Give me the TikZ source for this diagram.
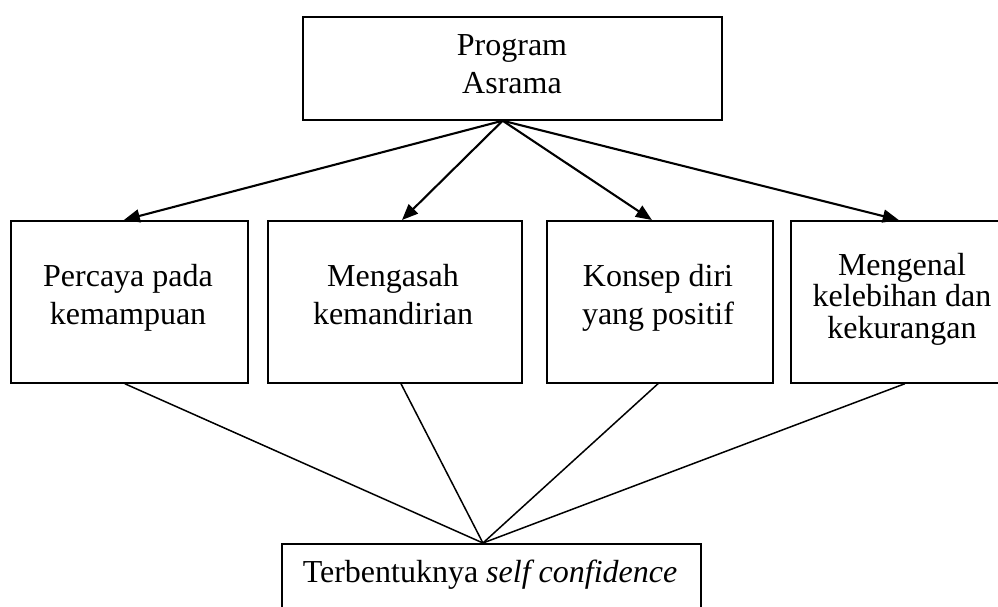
\documentclass[tikz,border=0pt]{standalone}
\usepackage{fontspec}
\setmainfont{Liberation Serif}
\usetikzlibrary{arrows.meta,calc}
\begin{document}
\begin{tikzpicture}[x=1pt,y=-1pt,
  box/.style={draw=black,line width=1.7pt,fill=white,inner sep=0pt,anchor=north west},
  txt/.style={align=center,inner sep=0pt,anchor=base,font=\fontsize{32}{37.5}\selectfont},
  txttight/.style={align=center,inner sep=0pt,anchor=base,font=\fontsize{32}{31.5}\selectfont},
  arr/.style={line width=2.1pt,-{Triangle[length=16pt,width=13pt]}},
  con/.style={line width=1.5pt}]
\useasboundingbox (0,0) rectangle (998,606);
\clip (0,0) rectangle (998,606);
% boxes
\node[box,minimum width=419pt,minimum height=103pt] (top) at (302,16) {};
\node[box,minimum width=237pt,minimum height=162pt] (b1) at (10,220) {};
\node[box,minimum width=254pt,minimum height=162pt] (b2) at (267,220) {};
\node[box,minimum width=226pt,minimum height=162pt] (b3) at (546,220) {};
\node[box,minimum width=224pt,minimum height=162pt] (b4) at (790,220) {};
\node[box,minimum width=419pt,minimum height=80pt] (bot) at (281,543) {};
% texts
\node[txt] (ttop) at (512,93) {Program\\Asrama};
\node[txt] (t1) at (128,324) {Percaya pada\\kemampuan};
\node[txt] (t2) at (393,324) {Mengasah\\kemandirian};
\node[txt] (t3) at (658,324) {Konsep diri\\yang positif};
\node[txttight] (t4) at (902,338) {Mengenal\\kelebihan dan\\kekurangan};
\node[txt] (tbot) at (490,582) {Terbentuknya \textit{self confidence}};
% connectors
\coordinate (apex) at ($(top.south west)!0.477!(top.south east)$);
\draw[arr] (apex) -- ($(b1.north west)!0.477!(b1.north east)$);
\draw[arr] (apex) -- ($(b2.north west)!0.528!(b2.north east)$);
\draw[arr] (apex) -- ($(b3.north west)!0.465!(b3.north east)$);
\draw[arr] (apex) -- ($(b4.north west)!0.482!(b4.north east)$);
\coordinate (nadir) at ($(bot.north west)!0.48!(bot.north east)$);
\draw[con] ($(b1.south west)!0.481!(b1.south east)$) -- (nadir);
\draw[con] ($(b2.south west)!0.524!(b2.south east)$) -- (nadir);
\draw[con] ($(b3.south west)!0.492!(b3.south east)$) -- (nadir);
\draw[con] ($(b4.south west)!0.509!(b4.south east)$) -- (nadir);
\end{tikzpicture}
\end{document}
